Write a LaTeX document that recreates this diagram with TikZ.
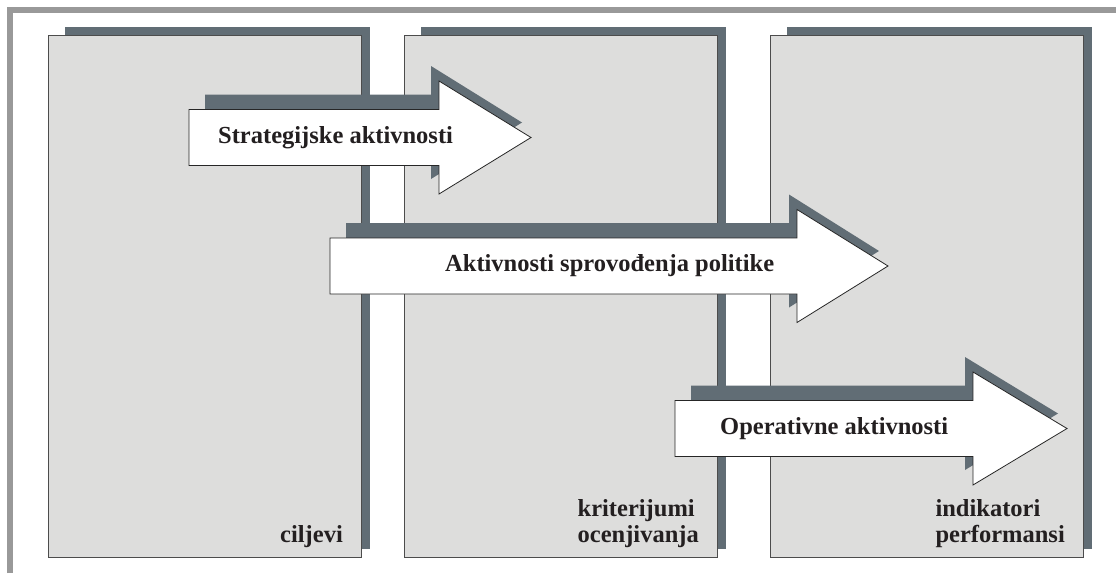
\documentclass[tikz,border=0pt]{standalone}
\usepackage{fontspec}
\setmainfont{Liberation Serif}
\usepackage{tikz}
\usetikzlibrary{calc}

\definecolor{framegray}{HTML}{999999}
\definecolor{panelgray}{HTML}{DDDDDC}
\definecolor{shadowslate}{HTML}{616D75}
\definecolor{inkdark}{HTML}{231F20}

\begin{document}
\begin{tikzpicture}[x=1pt, y=-1pt,
	panel/.style={fill=panelgray, draw=black!70, line width=0.8pt},
	shadow/.style={fill=shadowslate},
	arrowbox/.style={fill=white, draw=black!85, line width=0.8pt},
	caption/.style={font=\fontsize{24.5}{26}\selectfont\bfseries, text=inkdark, inner sep=0pt}]
		\useasboundingbox (0,0) rectangle (1116,573);
		\def\bh{28};
		\def\hh{56.5};
		\def\sy{15};

		% frame
		\draw[framegray, line width=5.5pt] (10,573) -- (10,10) -- (1116,10);

		% panels with their shadows
		\foreach \xl/\name in {48/goals, 404/criteria, 770/indicators}
		{
			\fill[shadow] (\xl+17,27) rectangle (\xl+322,549);
			\draw[panel] (\xl,35) rectangle (\xl+313,557);
			\coordinate (\name) at (\xl+295,548);
		}
		\node[caption, anchor=south east] (goalslabel) at (goals) {ciljevi};
		\node[caption, anchor=south east, align=left] (criterialabel) at (criteria) {kriterijumi\\ocenjivanja};
		\node[caption, anchor=south east, align=left] (indicatorslabel) at (indicators) {indikatori\\performansi};

		% block arrows
		\foreach \xa/\xh/\xt/\yc/\xs/\name/\txt in {
			189/439/531/137.5/218/strategic/Strategijske aktivnosti,
			330/797/888/266/445/policy/Aktivnosti sprovođenja politike,
			675/973/1067/428.5/720/operative/Operativne aktivnosti}
		{
			\fill[shadow] (\xa+16,\yc-\bh-\sy) -- (\xh-8,\yc-\bh-\sy) -- (\xh-8,\yc-\hh-\sy)
				-- (\xt-9,\yc-\sy) -- (\xh-8,\yc+\hh-\sy) -- (\xh-8,\yc+\bh-\sy)
				-- (\xa+16,\yc+\bh-\sy) -- cycle;
			\draw[arrowbox] (\xa,\yc-\bh) -- (\xh,\yc-\bh) -- (\xh,\yc-\hh)
				-- (\xt,\yc) -- (\xh,\yc+\hh) -- (\xh,\yc+\bh)
				-- (\xa,\yc+\bh) -- cycle;
			\node[caption, anchor=west] (\name) at (\xs,\yc) {\txt};
		}
	\end{tikzpicture}
\end{document}
